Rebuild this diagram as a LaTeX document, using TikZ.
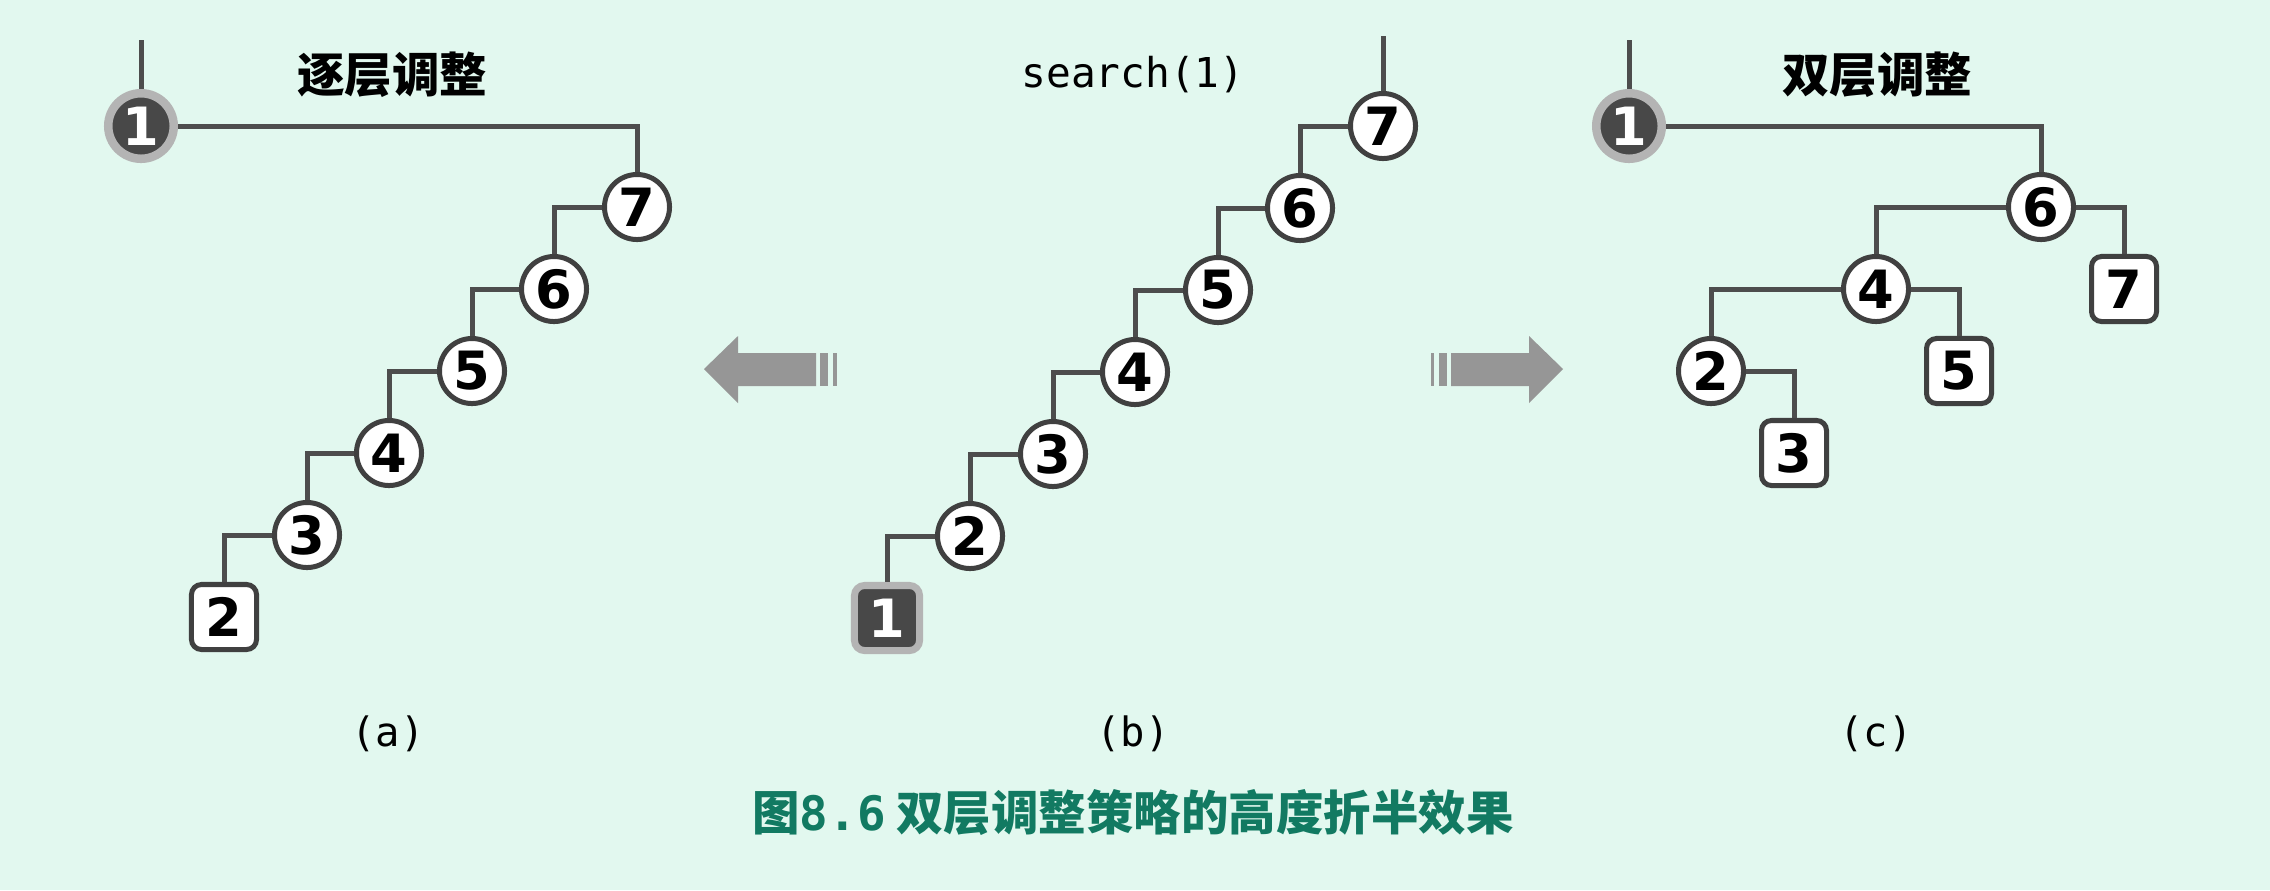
\documentclass[tikz,border=0pt]{standalone}
\usepackage{fontspec}
\setmainfont{DejaVu Sans}
\newfontfamily\cjk{Noto Sans CJK SC}
\newfontfamily\codefont{DejaVu Sans Mono}
\definecolor{bgmint}{RGB}{226,248,239}
\definecolor{edgegray}{RGB}{77,77,77}
\definecolor{rimgray}{RGB}{180,180,180}
\definecolor{darkfill}{RGB}{72,72,72}
\definecolor{arrowgray}{RGB}{150,150,150}
\definecolor{captiongreen}{RGB}{18,122,98}
\tikzset{
  knot/.style={circle, draw=black!75, fill=white, line width=0.05cm,
    minimum size=0.65cm, inner sep=0pt, font=\fontsize{15}{15}\selectfont\bfseries},
  leaf/.style={knot, rectangle, rounded corners=0.1cm},
  hotknot/.style={knot, draw=rimgray, fill=darkfill, text=white,
    line width=0.085cm, minimum size=0.655cm},
  hotleaf/.style={leaf, draw=rimgray, fill=darkfill, text=white, line width=0.07cm},
  link/.style={draw=edgegray, line width=0.05cm},
  heading/.style={font=\cjk\fontsize{13.5}{13.5}\selectfont\bfseries},
  tag/.style={font=\codefont\fontsize{11.5}{11.5}\selectfont}
}
\begin{document}
\begin{tikzpicture}[x=0.01cm, y=-0.01cm]
    \fill[bgmint] (0,0) rectangle (2270,890);
    \useasboundingbox (0,0) rectangle (2270,890);
    % (a)
    \node[hotknot] (a1) at (141,126) {1};
    \node[knot] (a7) at (637,207) {7};
    \node[knot] (a6) at (554,289) {6};
    \node[knot] (a5) at (472,371) {5};
    \node[knot] (a4) at (389,453) {4};
    \node[knot] (a3) at (307,535) {3};
    \node[leaf] (a2) at (224,617) {2};
    \coordinate (atop) at (141,40);
    \draw[link] (atop) -- (a1.north);
    \draw[link] (a1.east) -| (a7.north);
    \draw[link] (a7.west) -| (a6.north);
    \draw[link] (a6.west) -| (a5.north);
    \draw[link] (a5.west) -| (a4.north);
    \draw[link] (a4.west) -| (a3.north);
    \draw[link] (a3.west) -| (a2.north);
    \node[heading] (atitle) at (392,75) {逐层调整};
    \node[tag] (acap) at (388,734) {(a)};
    % (b)
    \node[knot] (b7) at (1383,126) {7};
    \node[knot] (b6) at (1300,208) {6};
    \node[knot] (b5) at (1218,290) {5};
    \node[knot] (b4) at (1135,372) {4};
    \node[knot] (b3) at (1053,454) {3};
    \node[knot] (b2) at (970,536) {2};
    \node[hotleaf] (b1) at (887,618) {1};
    \coordinate (btop) at (1383,36);
    \draw[link] (btop) -- (b7.north);
    \draw[link] (b7.west) -| (b6.north);
    \draw[link] (b6.west) -| (b5.north);
    \draw[link] (b5.west) -| (b4.north);
    \draw[link] (b4.west) -| (b3.north);
    \draw[link] (b3.west) -| (b2.north);
    \draw[link] (b2.west) -| (b1.north);
    \node[font=\codefont\fontsize{11.7}{11.7}\selectfont] (btitle) at (1133,75) {search(1)};
    \node[tag] (bcap) at (1133,734) {(b)};
    % arrows
    \fill[arrowgray] (704,369) -- (738,336) -- (738,353) -- (816,353) -- (816,386)
        -- (738,386) -- (738,403) -- cycle;
    \fill[arrowgray] (820,353) rectangle (828,386);
    \fill[arrowgray] (833,353) rectangle (837,386);
    \fill[arrowgray] (1563,369) -- (1529,336) -- (1529,353) -- (1451,353) -- (1451,386)
        -- (1529,386) -- (1529,403) -- cycle;
    \fill[arrowgray] (1439,353) rectangle (1447,386);
    \fill[arrowgray] (1431,353) rectangle (1434,386);
    % (c)
    \node[hotknot] (c1) at (1629,126) {1};
    \node[knot] (c6) at (2041,207) {6};
    \node[knot] (c4) at (1876,289) {4};
    \node[leaf] (c7) at (2124,289) {7};
    \node[knot] (c2) at (1711,371) {2};
    \node[leaf] (c5) at (1959,371) {5};
    \node[leaf] (c3) at (1794,453) {3};
    \coordinate (ctop) at (1629,40);
    \draw[link] (ctop) -- (c1.north);
    \draw[link] (c1.east) -| (c6.north);
    \draw[link] (c6.west) -| (c4.north);
    \draw[link] (c6.east) -| (c7.north);
    \draw[link] (c4.west) -| (c2.north);
    \draw[link] (c4.east) -| (c5.north);
    \draw[link] (c2.east) -| (c3.north);
    \node[heading] (ctitle) at (1877,75) {双层调整};
    \node[tag] (ccap) at (1876,734) {(c)};
    \node[text=captiongreen, font=\cjk\fontsize{13.5}{13.5}\selectfont\bfseries] (caption) at (1133,813)
        {图{\codefont\bfseries 8.6}\ 双层调整策略的高度折半效果};
\end{tikzpicture}
\end{document}
